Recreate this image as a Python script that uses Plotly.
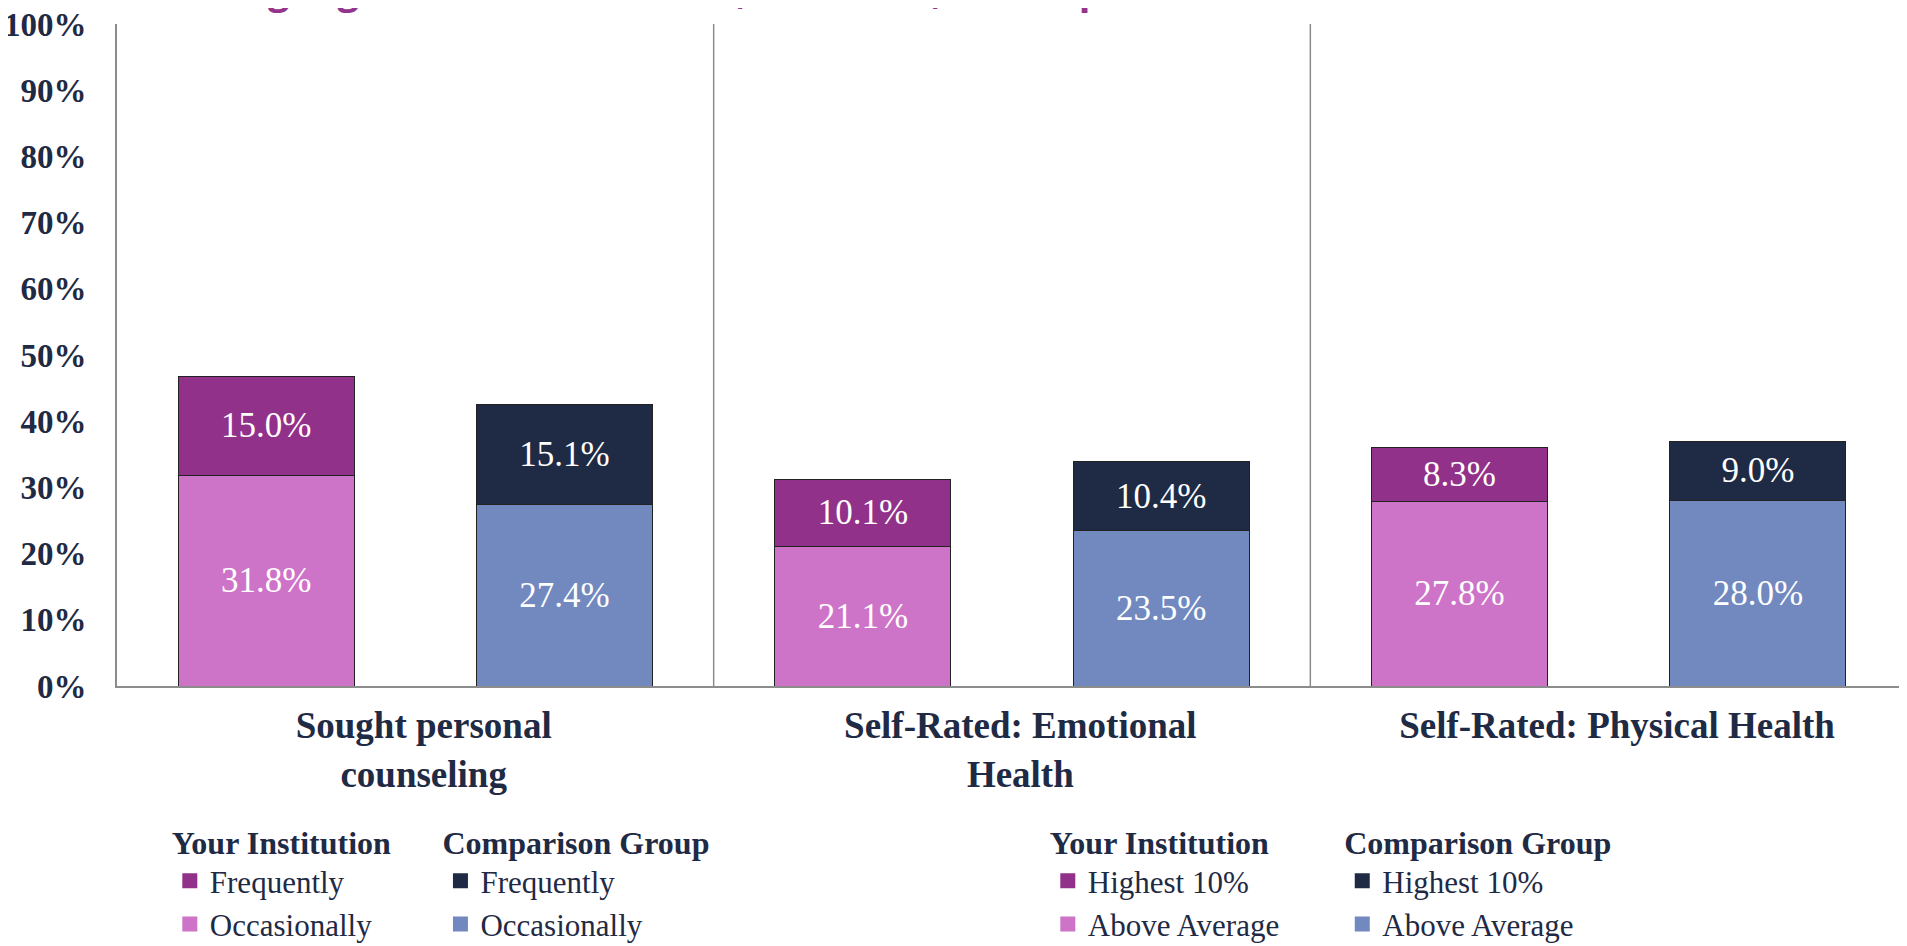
import plotly.graph_objects as go

# ---- data ----
categories = ["Sought personal<br>counseling", "Self-Rated: Emotional<br>Health", "Self-Rated: Physical Health"]
inst_top = [15.0, 10.1, 8.3]      # Frequently / Highest 10%
inst_bottom = [31.8, 21.1, 27.8]  # Occasionally / Above Average
comp_top = [15.1, 10.4, 9.0]
comp_bottom = [27.4, 23.5, 28.0]
y_ticks = [0, 10, 20, 30, 40, 50, 60, 70, 80, 90, 100]
group_titles = ["Your Institution", "Comparison Group"]
labels_a = ["Frequently", "Occasionally"]
labels_b = ["Highest 10%", "Above Average"]
title_text = "gauge student behaviors, attitudes, and experiences related to health and wellness."

# ---- style ----
C_INST_TOP = "#92318A"
C_INST_BOT = "#CE74C8"
C_COMP_TOP = "#1F2A44"
C_COMP_BOT = "#7289BF"
NAVY = "#1F2A44"
GRAY = "#8C8C8C"
SERIF = "Liberation Serif, Times New Roman, serif"

n = len(categories)
x_idx = list(range(n))
off = 0.25
bw = 0.295
x_inst = [i - off for i in x_idx]
x_comp = [i + off for i in x_idx]

fig = go.Figure()

def add_bar(xs, ys, color):
    fig.add_trace(go.Bar(
        x=xs, y=ys, width=[bw] * len(xs),
        marker=dict(color=color, line=dict(color="#222222", width=1)),
        texttemplate="%{y:.1f}%", textposition="inside", insidetextanchor="middle",
        textfont=dict(family=SERIF, size=35, color="white"),
        constraintext="none", showlegend=False, hoverinfo="skip",
    ))

add_bar(x_inst, inst_bottom, C_INST_BOT)
add_bar(x_inst, inst_top, C_INST_TOP)
add_bar(x_comp, comp_bottom, C_COMP_BOT)
add_bar(x_comp, comp_top, C_COMP_TOP)

# legend entries (square swatches)
legend_items = [
    (C_INST_TOP, labels_a[0], "legend", 1), (C_INST_BOT, labels_a[1], "legend", 2),
    (C_COMP_TOP, labels_a[0], "legend2", 1), (C_COMP_BOT, labels_a[1], "legend2", 2),
    (C_INST_TOP, labels_b[0], "legend3", 1), (C_INST_BOT, labels_b[1], "legend3", 2),
    (C_COMP_TOP, labels_b[0], "legend4", 1), (C_COMP_BOT, labels_b[1], "legend4", 2),
]
for color, name, legend, rank in legend_items:
    fig.add_trace(go.Scatter(x=[None], y=[None], name=name, mode="markers",
                             marker=dict(color=color, symbol="square", size=15, line=dict(width=0)),
                             legend=legend, legendrank=rank, legendgroup=legend + name,
                             hoverinfo="skip"))

# separators between categories
for k in range(n - 1):
    fig.add_shape(type="line", xref="x", yref="y", x0=k + 0.5, x1=k + 0.5, y0=0, y1=100,
                  line=dict(color=GRAY, width=1.5))

def legend_cfg(x, title):
    return dict(
        x=x, y=-0.191, xanchor="left", yanchor="top", orientation="v",
        bgcolor="rgba(0,0,0,0)", itemwidth=30,
        title=dict(text="<b>" + title + "</b>", font=dict(family=SERIF, size=32, color=NAVY)),
        font=dict(family=SERIF, size=31, color=NAVY),
        traceorder="normal", tracegroupgap=11,
    )

pad = "&nbsp;&#8201;"
fig.update_layout(
    width=1899, height=938,
    margin=dict(l=109, r=0, t=16, b=260, autoexpand=False),
    paper_bgcolor="white", plot_bgcolor="white",
    barmode="stack",
    showlegend=True,
    legend=legend_cfg(0.0295, group_titles[0]),
    legend2=legend_cfg(0.1807, group_titles[1]),
    legend3=legend_cfg(0.520, group_titles[0]),
    legend4=legend_cfg(0.6845, group_titles[1]),
    xaxis=dict(
        range=[-0.5, n - 0.5], tickmode="array", tickvals=x_idx,
        ticktext=["<b>" + "<br>".join(pad + s for s in c.split("<br>")) + "</b>" for c in categories],
        tickfont=dict(family=SERIF, size=37, color=NAVY),
        showline=True, linecolor=GRAY, linewidth=2, ticks="", showgrid=False, zeroline=False,
        ticklabelstandoff=6, automargin=False, ticklabeloverflow="allow",
    ),
    yaxis=dict(
        range=[0, 100], tickmode="array", tickvals=y_ticks,
        ticktext=["<b>%d%%</b>" % v for v in y_ticks],
        tickfont=dict(family=SERIF, size=33, color=NAVY),
        showline=True, linecolor=GRAY, linewidth=2, ticks="", showgrid=False, zeroline=False,
        ticklabelstandoff=22, automargin=False, ticklabeloverflow="allow",
    ),
    annotations=[dict(
        text="<b>" + title_text + "</b>", xref="paper", yref="paper", x=0.529, y=1,
        xanchor="center", yanchor="middle", yshift=35, showarrow=False,
        font=dict(family="Open Sans, Liberation Sans, sans-serif", size=38, color="#93358C"),
    )],
)

fig.write_html("out.html")
